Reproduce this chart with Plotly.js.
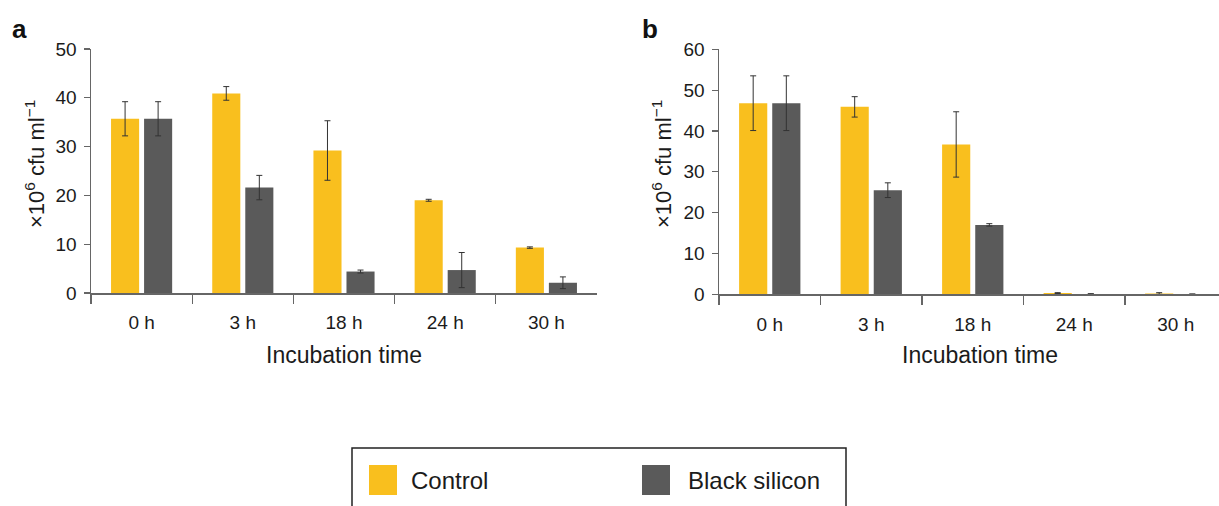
<!DOCTYPE html>
<html>
<head>
<meta charset="utf-8">
<script src="https://cdn.plot.ly/plotly-3.0.1.min.js"></script>
<style>html,body{margin:0;padding:0;background:#fff;}#chart{width:1219px;height:506px;}</style>
</head>
<body>
<div id="chart"></div>
<script>
// ---- data ----
const categories = ["0 h", "3 h", "18 h", "24 h", "30 h"];
const seriesNames = ["Control", "Black silicon"];

const aControl = [35.7, 40.9, 29.2, 19.0, 9.3];
const aControlErr = [3.5, 1.4, 6.1, 0.2, 0.15];
const aBlack = [35.7, 21.6, 4.4, 4.7, 2.1];
const aBlackErr = [3.5, 2.5, 0.3, 3.6, 1.2];

const bControl = [46.8, 45.9, 36.7, 0.3, 0.2];
const bControlErr = [6.7, 2.5, 8.0, 0.1, 0.2];
const bBlack = [46.8, 25.5, 17.0, 0.1, 0.05];
const bBlackErr = [6.7, 1.8, 0.3, 0.05, 0.03];

const yTicksA = [0, 10, 20, 30, 40, 50];
const yTicksB = [0, 10, 20, 30, 40, 50, 60];

// ---- style ----
const W = 1219, H = 506;
const px = x => x / W;
const py = y => 1 - y / H;
const cControl = "#F9BF1E";
const cBlack = "#5A5A5A";
const errStyle = {type: "data", visible: true, thickness: 1, width: 3, color: "#333"};
const FONT = "Liberation Sans, Arial, sans-serif";
const TXT = "#1b1b1b";

function bar(x, y, err, name, color, xa, ya) {
  return {
    type: "bar", x: x, y: y, name: name, xaxis: xa, yaxis: ya,
    marker: {color: color, line: {width: 0}},
    error_y: Object.assign({array: err}, errStyle),
    showlegend: false, hoverinfo: "skip"
  };
}

const data = [
  bar(categories, aControl, aControlErr, seriesNames[0], cControl, "x", "y"),
  bar(categories, aBlack, aBlackErr, seriesNames[1], cBlack, "x", "y"),
  bar(categories, bControl, bControlErr, seriesNames[0], cControl, "x2", "y2"),
  bar(categories, bBlack, bBlackErr, seriesNames[1], cBlack, "x2", "y2")
];

const axisLine = {showline: true, linecolor: "#666", linewidth: 1.5, showgrid: false, zeroline: false,
  tickfont: {family: FONT, size: 19, color: TXT}, tickcolor: "#666", tickwidth: 1.2};

function ann(text, x, y, size, extra) {
  return Object.assign({text: text, x: px(x), y: py(y), xref: "paper", yref: "paper", showarrow: false,
    xanchor: "center", yanchor: "middle", font: {family: FONT, size: size, color: TXT}}, extra || {});
}

const layout = {
  width: W, height: H,
  margin: {l: 0, r: 0, t: 0, b: 0, pad: 0},
  paper_bgcolor: "#fff", plot_bgcolor: "#fff",
  barmode: "group", bargap: 0.347, bargroupgap: 0.15,
  showlegend: false,
  xaxis: Object.assign({}, axisLine, {domain: [px(91), px(597)], anchor: "y", type: "category",
    range: [-0.5, 4.5], ticks: "outside", tickson: "boundaries", ticklen: 9, ticklabelstandoff: 12}),
  yaxis: Object.assign({}, axisLine, {domain: [py(293), py(49)], anchor: "x", range: [0, 50],
    tickvals: yTicksA, ticks: "outside", ticklen: 6, ticklabelstandoff: 3}),
  xaxis2: Object.assign({}, axisLine, {domain: [px(719), 1], anchor: "y2", type: "category",
    range: [-0.5, -0.5 + 500 / 101.5], ticks: "outside", tickson: "boundaries", ticklen: 9, ticklabelstandoff: 12}),
  yaxis2: Object.assign({}, axisLine, {domain: [py(294.3), py(49.3)], anchor: "x2", range: [0, 60],
    tickvals: yTicksB, ticks: "outside", ticklen: 6, ticklabelstandoff: 3}),
  annotations: [
    ann("<b>a</b>", 19, 29, 26, {font: {family: FONT, size: 26, color: "#111"}}),
    ann("<b>b</b>", 650, 29, 26, {font: {family: FONT, size: 26, color: "#111"}}),
    ann("×10<sup>6</sup> cfu ml<sup>−1</sup>", 35, 164, 22, {textangle: -90}),
    ann("×10<sup>6</sup> cfu ml<sup>−1</sup>", 662, 164, 22, {textangle: -90}),
    ann("Incubation time", 344, 355, 23),
    ann("Incubation time", 980, 355, 23),
    ann(seriesNames[0], 409, 480, 24, {xanchor: "left"}),
    ann(seriesNames[1], 686, 480, 24, {xanchor: "left"})
  ],
  shapes: [
    {type: "rect", xref: "paper", yref: "paper", x0: px(352), x1: px(846), y0: py(530), y1: py(448),
     line: {color: "#222", width: 1.5}, fillcolor: "rgba(0,0,0,0)"},
    {type: "rect", xref: "paper", yref: "paper", x0: px(369), x1: px(397), y0: py(495), y1: py(465),
     line: {width: 0}, fillcolor: cControl},
    {type: "rect", xref: "paper", yref: "paper", x0: px(642), x1: px(670), y0: py(495), y1: py(465),
     line: {width: 0}, fillcolor: cBlack}
  ]
};

Plotly.newPlot("chart", data, layout, {staticPlot: true, displayModeBar: false});
</script>
</body>
</html>
